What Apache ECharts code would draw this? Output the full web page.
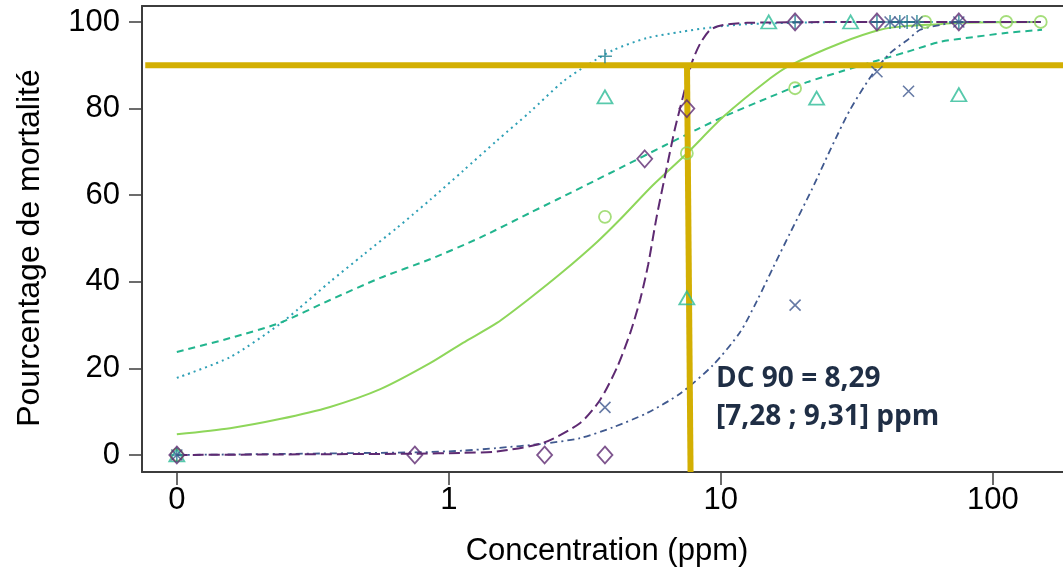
<!DOCTYPE html>
<html>
<head>
<meta charset="utf-8">
<script src="https://cdn.jsdelivr.net/npm/echarts@6/dist/echarts.min.js"></script>
<style>html,body{margin:0;padding:0;background:#fff}#c{width:1063px;height:572px}</style>
</head>
<body>
<div id="c"></div>
<script>
// ---- tick labels ----
const xTickValues = [-1, 0, 1, 2];            // log10 positions (0 ppm drawn at the 0.1 position)
const xTickLabels = ['0', '1', '10', '100'];
const yTickValues = [0, 20, 40, 60, 80, 100];

// ---- observed points (concentration ppm, % mortality) ----
const diamondConc = [0, 0.75, 2.25, 3.75, 5.25, 7.5, 18.75, 37.5, 75];
const diamondPct  = [0, 0, 0, 0, 68.4, 80, 100, 100, 100];
const crossConc   = [0, 3.75, 18.75, 37.5, 41.9, 45.5, 49, 52.6, 75];
const crossPct    = [0, 11, 34.6, 88.5, 100, 100, 84, 100, 100];
const plusConc    = [0, 3.75, 18.75, 37.5, 41.9, 45.5, 48.4, 52.6, 75];
const plusPct     = [0, 92.1, 100, 100, 100, 100, 100, 100, 100];
const triConc     = [0, 3.75, 7.5, 15, 22.5, 30, 75];
const triPct      = [0, 82.7, 36.3, 100, 82.4, 100, 83.2];
const circConc    = [0, 3.75, 7.5, 18.75, 56.4, 112, 150];
const circPct     = [0, 55, 69.7, 84.7, 100, 100, 100];

// ---- fitted curves (concentration ppm, % mortality) ----
const diamondCurveConc = [0, 0.74, 1.127, 1.503, 2.223, 3.041, 3.597, 4.159, 4.645, 5.058, 5.408, 5.808, 6.31, 6.761, 7.278, 7.816, 8.395, 9.141, 10.21, 12.5, 31.6, 150];
const diamondCurvePct  = [0, 0.3, 0.5, 0.8, 2.8, 7.4, 12.7, 20.3, 28.2, 36, 44, 55, 66, 75, 83, 90.5, 95, 98.2, 99.3, 99.8, 100, 100];
const crossCurveConc = [0, 0.74, 1.127, 1.503, 2.223, 3.041, 4.018, 5.358, 7.096, 9.376, 11.78, 13.58, 15.6, 17.99, 21.68, 25.23, 29.85, 36.31, 41.88, 48.42, 54.08, 63.97, 74.47, 150];
const crossCurvePct  = [0, 0.6, 1.0, 1.6, 2.6, 3.9, 6.4, 9.7, 14.2, 20.8, 28.4, 35.6, 43.4, 51.3, 61.5, 70.4, 79.7, 88.2, 92.8, 95.8, 98.2, 99.3, 100, 100];
const plusCurveConc = [0, 0.157, 0.239, 0.277, 0.366, 0.484, 0.646, 0.74, 0.853, 1.127, 1.503, 1.986, 2.624, 3.221, 4.018, 5.358, 7.096, 9.376, 12.5, 29.85, 74.5, 150];
const plusCurvePct  = [17.8, 22.6, 30.2, 33.5, 40, 46.2, 52.5, 55.6, 58.9, 65.6, 72.6, 79.2, 86.2, 90, 93.5, 96.3, 97.7, 98.8, 99.5, 100, 100, 100];
const triCurveConc = [0, 0.157, 0.239, 0.366, 0.56, 0.853, 1.303, 1.986, 2.5, 3.508, 4.276, 6.138, 8.185, 10.21, 15.2, 20.75, 27.48, 36.31, 48.42, 63.97, 84.72, 113, 151.7];
const triCurvePct  = [23.8, 27, 30.5, 35.8, 40.9, 45.2, 50.2, 55.9, 59, 63.6, 66.3, 71.3, 75.2, 78.1, 82.7, 86.1, 88.5, 90.8, 93.1, 95.4, 96.5, 97.5, 98.2];
const circCurveConc = [0, 0.157, 0.239, 0.366, 0.56, 0.853, 1.127, 1.503, 1.986, 2.624, 3.508, 4.276, 5.623, 7.516, 10.21, 15.2, 17.99, 27.48, 38.55, 48.42, 63.97, 74.47, 150];
const circCurvePct  = [4.8, 6.2, 8.3, 11.1, 15.2, 21.2, 25.9, 30.5, 36.2, 42.3, 49.2, 54.5, 62.3, 69.7, 78.1, 87, 90, 95.1, 98.2, 99.1, 99.5, 99.8, 100];

// ---- DC90 reference ----
const dc90Level = 90;
const dc90LineConcTop = 7.51;
const dc90LineConcBottom = 7.74;
const annotationText = 'DC 90 = 8,29\n[7,28 ; 9,31] ppm';

// ---------- build ----------
const lx = c => (c === 0 ? -1 : Math.log10(c));
const pairs = (xs, ys) => xs.map((c, i) => [lx(c), ys[i]]);
const X_MIN = -1.128, X_MAX = 2.258, Y_MIN = -3.93, Y_MAX = 103.69;

const cPurple = '#5E2A72', cBlue = '#40598F', cPlus = '#1F7F90', cDot = '#2FA0B6',
      cTri = '#2DBB97', cTriLine = '#22B58E', cCirc = '#8ED65A', cGold = '#D3AF02';

function curve(xs, ys, color, type, width) {
  return { type: 'line', data: pairs(xs, ys), smooth: 0.25, showSymbol: false, symbol: 'none', z: 2,
    lineStyle: { color, type, width }, silent: true };
}
function pts(xs, ys, symbol, size, color, bw) {
  return { type: 'scatter', data: pairs(xs, ys), symbol, symbolSize: size, z: 5, silent: true,
    itemStyle: { color: 'rgba(0,0,0,0)', borderColor: color, borderWidth: bw } };
}

const axisCol = '#3c3c3c';
const option = {
  animation: false,
  grid: { left: 142, top: 6, right: 0, bottom: 100, show: false },
  xAxis: [{
    type: 'value', min: X_MIN, max: X_MAX,
    axisLine: { show: true, onZero: false, lineStyle: { color: axisCol, width: 2 } },
    axisTick: { show: true, length: 13, customValues: xTickValues, lineStyle: { color: axisCol, width: 1.5 } },
    axisLabel: { customValues: xTickValues, formatter: v => xTickLabels[xTickValues.indexOf(Math.round(v))],
      fontSize: 31, color: '#000', fontFamily: 'Liberation Sans', margin: 13 },
    splitLine: { show: false }
  }, {
    type: 'value', position: 'top', min: X_MIN, max: X_MAX,
    axisLine: { show: true, onZero: false, lineStyle: { color: axisCol, width: 2 } },
    axisTick: { show: false }, axisLabel: { show: false }, splitLine: { show: false }
  }],
  yAxis: {
    type: 'value', min: Y_MIN, max: Y_MAX,
    axisLine: { show: true, onZero: false, lineStyle: { color: axisCol, width: 2 } },
    axisTick: { show: true, length: 13, customValues: yTickValues, lineStyle: { color: axisCol, width: 1.5 } },
    axisLabel: { customValues: yTickValues, fontSize: 31, color: '#000', fontFamily: 'Liberation Sans', margin: 22 },
    splitLine: { show: false }
  },
  graphic: [
    { type: 'text', x: 607, y: 551, style: { text: 'Concentration (ppm)', font: '31px "Liberation Sans"', fill: '#000', align: 'center', verticalAlign: 'middle' } },
    { type: 'text', x: 30, y: 248, rotation: Math.PI / 2, style: { text: 'Pourcentage de mortalité', font: '32px "Liberation Sans"', fill: '#000', align: 'center', verticalAlign: 'middle' } },
    { type: 'text', x: 716, y: 360, z: 100, style: { text: annotationText, font: 'bold 28px "Open Sans"', fill: '#1F2E45', lineHeight: 38, align: 'left', verticalAlign: 'top' } }
  ],
  series: [
    curve(plusCurveConc, plusCurvePct, cDot, [2, 4], 2),
    curve(triCurveConc, triCurvePct, cTriLine, [7, 5], 2),
    curve(circCurveConc, circCurvePct, cCirc, 'solid', 2),
    curve(crossCurveConc, crossCurvePct, cBlue, [7, 4, 2, 4], 1.8),
    curve(diamondCurveConc, diamondCurvePct, cPurple, [11, 5], 2),
    { type: 'line', silent: true, symbol: 'none', z: 3, lineStyle: { color: cGold, width: 6 },
      data: [[X_MIN + 0.012, dc90Level], [X_MAX, dc90Level]] },
    { type: 'line', silent: true, symbol: 'none', z: 3, lineStyle: { color: cGold, width: 6 },
      data: [[lx(dc90LineConcTop), dc90Level], [lx(dc90LineConcBottom), Y_MIN]] },
    pts(triConc, triPct, 'triangle', [15, 13], cTri, 1.8),
    pts(circConc, circPct, 'circle', 12, cCirc, 1.8),
    pts(plusConc, plusPct, 'path://M5,0L5,10M0,5L10,5', 14, cPlus, 1.6),
    pts(crossConc, crossPct, 'path://M0,0L10,10M10,0L0,10', 11, cBlue, 1.6),
    pts(diamondConc, diamondPct, 'diamond', [15, 17], cPurple, 1.8)
  ]
};
const chart = echarts.init(document.getElementById('c'), null, { renderer: 'canvas' });
chart.setOption(option);
</script>
</body>
</html>
